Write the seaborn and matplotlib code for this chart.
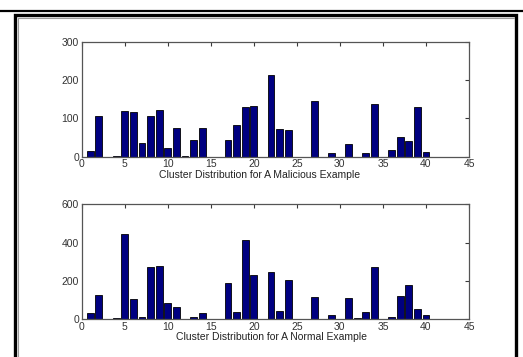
import numpy as np
import pandas as pd
import matplotlib
matplotlib.use("Agg")
import matplotlib.pyplot as plt
from matplotlib.lines import Line2D
import seaborn as sns

clusters = list(range(1, 41))
malicious = [15, 107, 0, 2, 120, 116, 35, 105, 122, 22,
             76, 2, 43, 76, 0, 0, 43, 82, 129, 131,
             0, 212, 73, 70, 0, 0, 144, 0, 10, 0,
             33, 0, 10, 137, 0, 17, 52, 42, 129, 12]
normal = [31, 126, 0, 7, 445, 105, 10, 274, 279, 86,
          65, 0, 10, 31, 0, 0, 190, 35, 412, 232,
          0, 244, 40, 202, 0, 0, 117, 0, 19, 0,
          108, 5, 35, 274, 0, 10, 120, 176, 52, 23]
xticks = [0, 5, 10, 15, 20, 25, 30, 35, 40, 45]
yticks_top = [0, 100, 200, 300]
yticks_bottom = [0, 200, 400, 600]
label_top = "Cluster Distribution for A Malicious Example"
label_bottom = "Cluster Distribution for A Normal Example"

sns.set_style("white")
plt.rcParams["font.family"] = ["Liberation Sans", "DejaVu Sans"]

fig = plt.figure(figsize=(5.23, 3.57), dpi=100)
W, H = 523, 357

def px_axes(left, top, right, bottom):
    return fig.add_axes([left / W, 1 - bottom / H, (right - left) / W, (bottom - top) / H])

ax1 = px_axes(81.7, 41.7, 469, 156.7)
ax2 = px_axes(81.7, 204.3, 469, 319)

df1 = pd.DataFrame({"cluster": clusters, "count": malicious})
df2 = pd.DataFrame({"cluster": clusters, "count": normal})

tick_col = "#3a3a3a"
for ax, df, yt, lab, labx in [(ax1, df1, yticks_top, label_top, 0.458),
                              (ax2, df2, yticks_bottom, label_bottom, 0.49)]:
    sns.barplot(data=df, x="cluster", y="count", native_scale=True, ax=ax,
                color="#000080", saturation=1, edgecolor="black", linewidth=0.6,
                width=0.8, errorbar=None)
    ax.set_xlim(0, 45)
    ax.set_ylim(yt[0], yt[-1])
    ax.set_xticks(xticks)
    ax.set_yticks(yt)
    ax.set_xticklabels([str(t) for t in xticks])
    ax.set_yticklabels([str(t) for t in yt])
    ax.tick_params(direction="in", length=3, width=0.8, top=True, right=True,
                   labelsize=7.5, colors=tick_col, pad=2)
    ax.tick_params(axis="both", labelcolor="#333333")
    for s in ax.spines.values():
        s.set_visible(True)
        s.set_color("#555555")
        s.set_linewidth(0.9)
    ax.set_xlabel(lab, fontsize=7.5, color="#222222", labelpad=1)
    ax.set_ylabel("")
    ax.xaxis.set_label_coords(labx, -0.115)

# outer frame decorations
fig.add_artist(Line2D([0, 1], [1 - 11 / H, 1 - 11 / H], transform=fig.transFigure,
                      color="black", linewidth=1.6))
fig.add_artist(Line2D([15 / W, 15 / W, 516 / W, 516 / W],
                      [0, 1 - 15 / H, 1 - 15 / H, 0], transform=fig.transFigure,
                      color="black", linewidth=2.4, solid_joinstyle="miter"))
fig.add_artist(Line2D([17.5 / W, 17.5 / W, 513.5 / W],
                      [0, 1 - 17.5 / H, 1 - 17.5 / H], transform=fig.transFigure,
                      color="#9a9a9a", linewidth=0.8))

fig.savefig("out.png", dpi=100)
